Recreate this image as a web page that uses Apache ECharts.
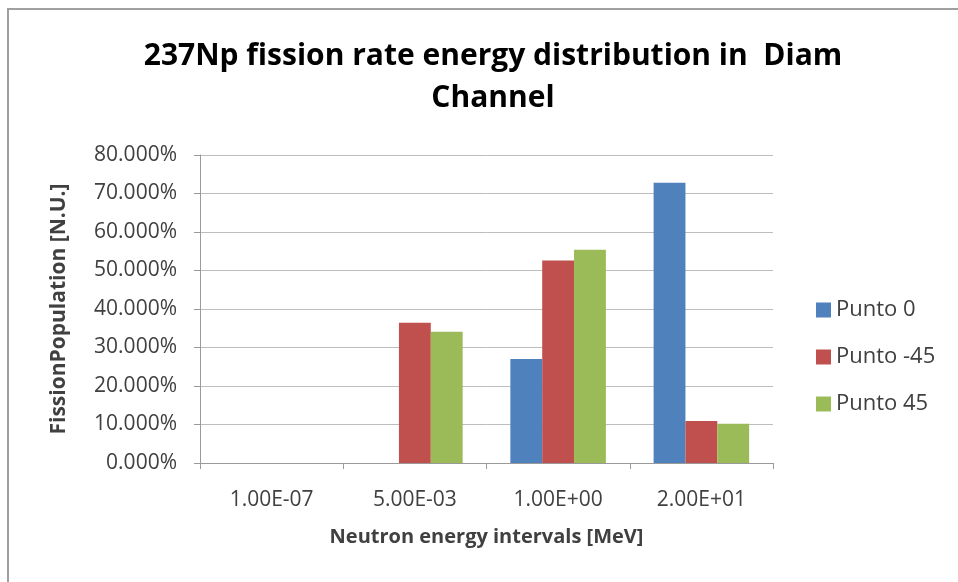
<!DOCTYPE html>
<html>
<head>
<meta charset="utf-8">
<script src="https://cdn.jsdelivr.net/npm/echarts@6/dist/echarts.min.js"></script>
<style>
html,body{margin:0;padding:0;background:#fff;}
#chart{width:958px;height:582px;}
</style>
</head>
<body>
<div id="chart"></div>
<script>
const titleText = '237Np fission rate energy distribution in  Diam\nChannel';
const categories = ['1.00E-07', '5.00E-03', '1.00E+00', '2.00E+01'];
const seriesNames = ['Punto 0', 'Punto -45', 'Punto 45'];
const punto0 = [0, 0, 27.0, 72.8];
const puntoMinus45 = [0, 36.4, 52.6, 10.9];
const punto45 = [0, 34.1, 55.4, 10.2];
const colors = ['#4F81BD', '#C0504D', '#9BBB59'];
const yAxisName = 'FissionPopulation [N.U.]';
const xAxisName = 'Neutron energy intervals [MeV]';

const chart = echarts.init(document.getElementById('chart'));
const font = 'Open Sans, Noto Sans, sans-serif';
const values = [punto0, puntoMinus45, punto45];

chart.setOption({
  animation: false,
  backgroundColor: '#fff',
  graphic: [
    { type: 'line', shape: { x1: 7, y1: 9, x2: 958, y2: 9 }, style: { stroke: '#a0a0a0', lineWidth: 2 } },
    { type: 'line', shape: { x1: 8, y1: 8, x2: 8, y2: 582 }, style: { stroke: '#a0a0a0', lineWidth: 2 } }
  ],
  title: {
    text: titleText,
    left: 488,
    top: 30,
    textAlign: 'center',
    textStyle: { fontFamily: font, fontWeight: 'bold', fontSize: 30, color: '#000', lineHeight: 42 }
  },
  legend: {
    orient: 'vertical',
    left: 816,
    top: 299,
    padding: 0,
    itemWidth: 15,
    itemHeight: 15,
    itemGap: 25,
    icon: 'rect',
    data: seriesNames,
    textStyle: { fontFamily: font, fontSize: 22, color: '#404040' }
  },
  grid: { left: 200, right: 185, top: 155, bottom: 119 },
  xAxis: {
    type: 'category',
    data: categories,
    name: xAxisName,
    nameLocation: 'middle',
    nameGap: 64,
    nameTextStyle: { fontFamily: font, fontWeight: 'bold', fontSize: 20, color: '#404040' },
    axisLine: { lineStyle: { color: '#9a9a9a', width: 1 } },
    axisTick: { show: true, length: 6, lineStyle: { color: '#9a9a9a' } },
    axisLabel: { fontFamily: font, fontSize: 21, color: '#404040', margin: 27 }
  },
  yAxis: {
    type: 'value',
    min: 0,
    max: 80,
    interval: 10,
    name: yAxisName,
    nameLocation: 'middle',
    nameGap: 130,
    nameTextStyle: { fontFamily: font, fontWeight: 'bold', fontSize: 21, color: '#404040' },
    axisLine: { show: true, lineStyle: { color: '#9a9a9a', width: 1 } },
    axisTick: { show: true, length: 6, lineStyle: { color: '#9a9a9a' } },
    axisLabel: { fontFamily: font, fontSize: 21, color: '#404040', margin: 23, formatter: v => v.toFixed(3) + '%' },
    splitLine: { lineStyle: { color: '#bdbdbd', width: 1 } }
  },
  series: seriesNames.map((name, i) => ({
    name: name,
    type: 'bar',
    data: values[i],
    itemStyle: { color: colors[i] },
    barGap: '0%',
    barCategoryGap: '33.3%'
  }))
});
</script>
</body>
</html>
